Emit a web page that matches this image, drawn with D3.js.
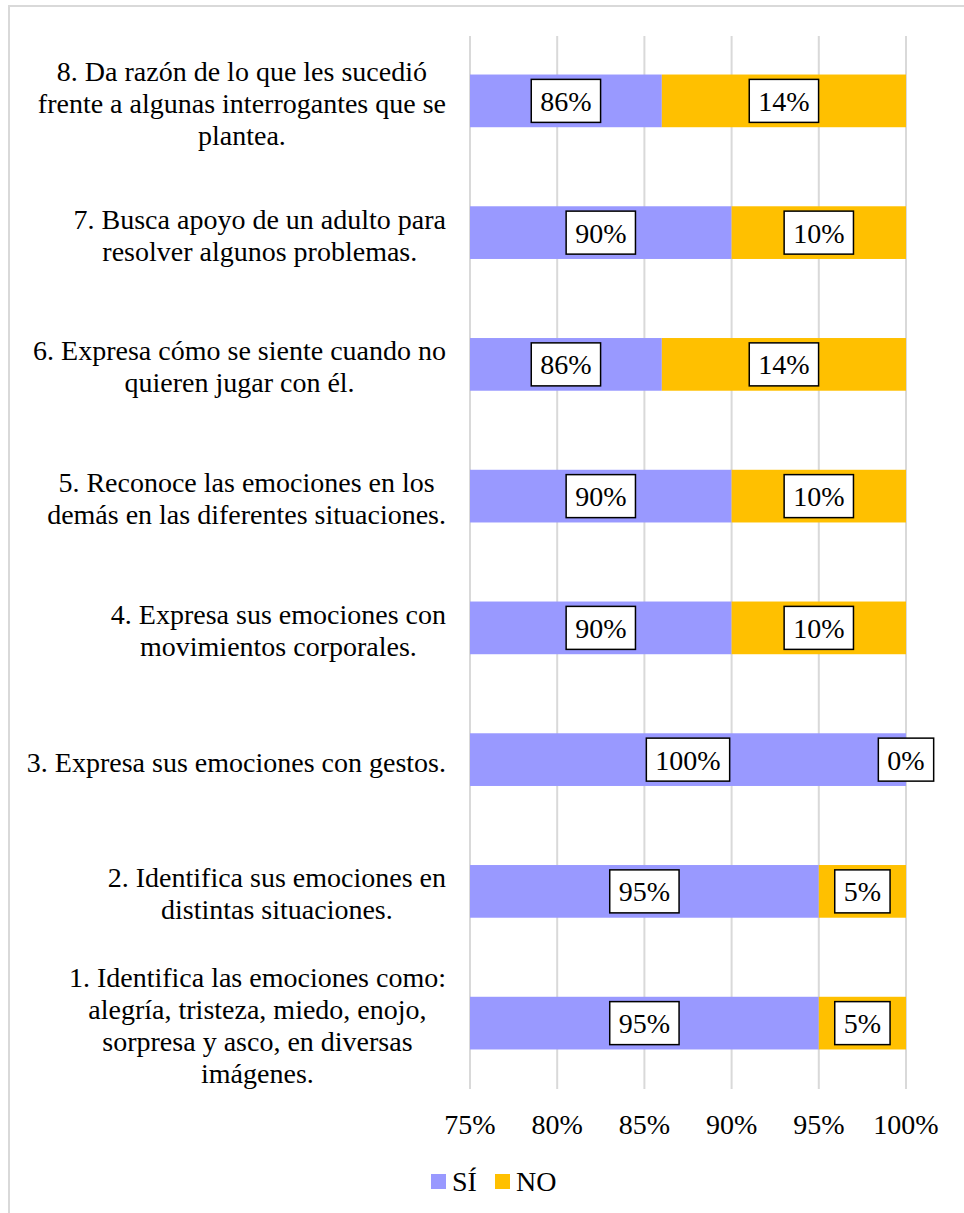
<!DOCTYPE html>
<html>
<head>
<meta charset="utf-8">
<script src="https://cdn.jsdelivr.net/npm/d3@7"></script>
<style>
  body { margin: 0; background: #fff; }
</style>
</head>
<body>
<div id="chart"></div>
<script>
// values, bottom row first
var categories = [
    ["1. Identifica las emociones como:", "alegría, tristeza, miedo, enojo,", "sorpresa y asco, en diversas", "imágenes."],
    ["2. Identifica sus emociones en", "distintas situaciones."],
    ["3. Expresa sus emociones con gestos."],
    ["4. Expresa sus emociones con", "movimientos corporales."],
    ["5. Reconoce las emociones en los", "demás en las diferentes situaciones."],
    ["6. Expresa cómo se siente cuando no", "quieren jugar con él."],
    ["7. Busca apoyo de un adulto para", "resolver algunos problemas."],
    ["8. Da razón de lo que les sucedió", "frente a algunas interrogantes que se", "plantea."]
];
var siValues = [0.95, 0.95, 1.00, 0.90, 0.90, 0.86, 0.90, 0.86];
var noValues = [0.05, 0.05, 0.00, 0.10, 0.10, 0.14, 0.10, 0.14];
var xTicks = [0.75, 0.80, 0.85, 0.90, 0.95, 1.00];
var seriesNames = ["SÍ", "NO"];

var FONT = "Liberation Serif";
var SI_COLOR = "#9999ff", NO_COLOR = "#ffc000", GRID = "#d9d9d9";

/**
 * Constructor for the stacked bar chart
 */
function StackedChart(){
    var self = this;
    self.init();
};

/**
 * Sets up the svg, scales and frame
 */
StackedChart.prototype.init = function(){
    var self = this;
    self.width = 964;
    self.height = 1213;
    self.plot = {left: 470, right: 906, top: 35, bottom: 1089};

    self.svg = d3.select("#chart").append("svg")
        .attr("width", self.width)
        .attr("height", self.height)
        .attr("font-family", FONT)
        .attr("font-size", 28);

    // light outer frame, only left and top edges fall inside the picture
    self.svg.append("rect")
        .attr("x", 9).attr("y", 6)
        .attr("width", 1000).attr("height", 1300)
        .attr("fill", "none")
        .attr("stroke", GRID)
        .attr("stroke-width", 2);

    self.xScale = d3.scaleLinear()
        .domain([0.75, 1])
        .range([self.plot.left, self.plot.right]);

    self.yScale = d3.scaleBand()
        .domain(d3.range(categories.length).reverse())
        .range([self.plot.top, self.plot.bottom])
        .paddingInner(0.6)
        .paddingOuter(0.3);

    self.gridGroup = self.svg.append("g").attr("id", "grid");
    self.barGroup = self.svg.append("g").attr("id", "bars");
    self.labelGroup = self.svg.append("g").attr("id", "labels");
    self.catGroup = self.svg.append("g").attr("id", "categories");
    self.axisGroup = self.svg.append("g").attr("id", "axis");
    self.legendGroup = self.svg.append("g").attr("id", "legend");
};

/**
 * Draws gridlines, bars, boxed labels, category text and legend
 */
StackedChart.prototype.update = function(){
    var self = this;
    var x = self.xScale, y = self.yScale;
    var pct = d3.format(".0%");

    var rows = categories.map(function(c, i){
        return {i: i, lines: c, si: siValues[i], no: noValues[i]};
    });

    // vertical gridlines
    self.gridGroup.selectAll("line")
        .data(xTicks)
        .enter().append("line")
        .attr("stroke", GRID)
        .attr("stroke-width", 2)
        .attr("x1", function(d){ return x(d); })
        .attr("x2", function(d){ return x(d); })
        .attr("y1", self.plot.top + 1)
        .attr("y2", self.plot.bottom);

    // tick labels
    self.axisGroup.selectAll("text")
        .data(xTicks)
        .enter().append("text")
        .attr("x", function(d){ return x(d); })
        .attr("y", 1134)
        .attr("text-anchor", "middle")
        .text(function(d){ return pct(d); });

    // bars: SÍ starts at the left edge of the axis (75%), NO stacked after it
    self.barGroup.selectAll("rect.si")
        .data(rows)
        .enter().append("rect")
        .attr("class", "si")
        .attr("fill", SI_COLOR)
        .attr("x", x(0.75))
        .attr("y", function(d){ return y(d.i); })
        .attr("width", function(d){ return x(d.si) - x(0.75); })
        .attr("height", y.bandwidth());

    self.barGroup.selectAll("rect.no")
        .data(rows)
        .enter().append("rect")
        .attr("class", "no")
        .attr("fill", NO_COLOR)
        .attr("x", function(d){ return x(d.si); })
        .attr("y", function(d){ return y(d.i); })
        .attr("width", function(d){ return x(d.si + d.no) - x(d.si); })
        .attr("height", y.bandwidth());

    // data labels in white boxes
    var labels = [];
    rows.forEach(function(d){
        labels.push({i: d.i, cx: (x(0.75) + x(d.si)) / 2, v: d.si});
        labels.push({i: d.i, cx: (x(d.si) + x(d.si + d.no)) / 2, v: d.no});
    });

    var lab = self.labelGroup.selectAll("g")
        .data(labels)
        .enter().append("g")
        .attr("transform", function(d){
            return "translate(" + d.cx + "," + (y(d.i) + y.bandwidth() / 2) + ")";
        });
    lab.append("rect")
        .attr("fill", "#fff")
        .attr("stroke", "#000")
        .attr("stroke-width", 1.5);
    lab.append("text")
        .attr("text-anchor", "middle")
        .attr("y", 10)
        .text(function(d){ return pct(d.v); });
    lab.each(function(){
        var g = d3.select(this);
        var w = g.select("text").node().getComputedTextLength() + 18;
        g.select("rect")
            .attr("x", -w / 2).attr("y", -21.5)
            .attr("width", w).attr("height", 43);
    });

    // category labels, each block centred on its widest line, right edge at 446
    var lineH = 32;
    var cat = self.catGroup.selectAll("g")
        .data(rows)
        .enter().append("g");
    cat.each(function(d){
        var g = d3.select(this);
        var cy = y(d.i) + y.bandwidth() / 2 + 3;
        var first = cy - (d.lines.length - 1) * lineH / 2;
        var t = g.selectAll("text")
            .data(d.lines)
            .enter().append("text")
            .attr("y", function(l, k){ return first + k * lineH + 9; })
            .text(function(l){ return l; });
        var maxW = d3.max(t.nodes(), function(n){ return n.getComputedTextLength(); });
        t.attr("x", 446 - maxW / 2).attr("text-anchor", "middle");
    });

    // legend
    var legX = [431, 495];
    var leg = self.legendGroup.selectAll("g")
        .data(seriesNames)
        .enter().append("g")
        .attr("transform", function(d, i){ return "translate(" + legX[i] + ",1174)"; });
    leg.append("rect")
        .attr("fill", function(d, i){ return i == 0 ? SI_COLOR : NO_COLOR; })
        .attr("width", 15).attr("height", 15);
    leg.append("text")
        .attr("x", 21).attr("y", 17)
        .text(function(d){ return d; });
};

var chart = new StackedChart();
chart.update();
</script>
</body>
</html>
